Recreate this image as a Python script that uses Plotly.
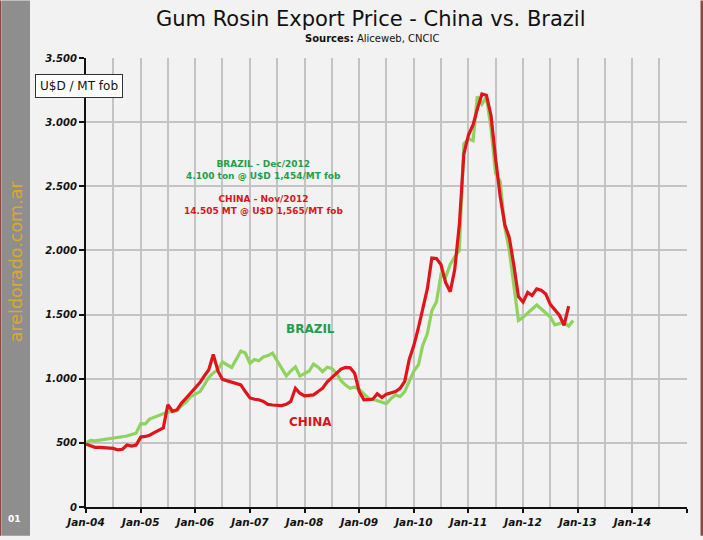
import plotly.graph_objects as go
import pandas as pd

# ---------------- data ----------------
start_month = "2004-01-01"
brazil = [500, 520, 515, 520, 525, 528, 532, 538, 545, 553, 565, 575,
          650, 648, 685, 700, 712, 730, 740, 745, 750, 790, 820, 860,
          880, 900, 950, 1010, 1045, 1070, 1130, 1110, 1088, 1150, 1215, 1200,
          1120, 1150, 1140, 1170, 1180, 1200, 1140, 1080, 1022, 1060, 1093, 1020,
          1040, 1060, 1115, 1090, 1055, 1090, 1080, 1042, 985, 950, 926, 935,
          915, 880, 850, 840, 830, 815, 806, 845, 875, 860, 900, 980,
          1060, 1110, 1260, 1350, 1530, 1600, 1810, 1790, 1890, 1950, 2000, 2830,
          2870, 2855, 3200, 3140, 3195, 2950, 2600, 2540, 2180, 2000, 1700, 1455,
          1480, 1510, 1545, 1575, 1545, 1515, 1480, 1420, 1430, 1440, 1410, 1454]
china = [490, 480, 465, 465, 462, 460, 457, 445, 450, 483, 475, 483,
         545, 550, 560, 580, 600, 617, 797, 746, 758, 810, 850, 890,
         930, 970, 1020, 1070, 1190, 1060, 995, 985, 978, 965, 952, 900,
         850, 840, 836, 823, 800, 795, 790, 790, 800, 823, 926, 887,
         866, 870, 874, 900, 926, 975, 1010, 1042, 1075, 1088, 1085, 1042,
         900, 836, 836, 840, 882, 853, 880, 890, 900, 925, 980, 1150,
         1260, 1400, 1540, 1700, 1940, 1936, 1890, 1750, 1678, 1850, 2200, 2750,
         2900, 2980, 3100, 3220, 3210, 3050, 2720, 2420, 2200, 2100, 1880, 1640,
         1597, 1673, 1648, 1700, 1690, 1660, 1580, 1540, 1493, 1416, 1565]
brazil_dates = pd.date_range(start_month, periods=len(brazil), freq="MS")
china_dates = pd.date_range(start_month, periods=len(china), freq="MS")

title_text = "Gum Rosin Export Price - China vs. Brazil"
subtitle_text = "<b>Sources:</b> Aliceweb, CNCIC"
unit_text = "U$D / MT fob"
brazil_note = "<b>BRAZIL - Dec/2012<br>4.100 ton @ U$D 1,454/MT fob</b>"
china_note = "<b>CHINA - Nov/2012<br>14.505 MT @ U$D 1,565/MT fob</b>"

# ---------------- layout helpers ----------------
W, H = 703, 540
ML, MR, MT, MB = 86, 16, 58, 29
PW, PH = W - ML - MR, H - MT - MB


def px(p):
    return (p - ML) / PW


def py(p):
    return (H - MB - p) / PH


GREEN_LINE = "#8fd35f"
RED_LINE = "#e0141b"
GREEN_TXT = "#1f9e4c"
RED_TXT = "#d8161c"
BG = "#f2f2f2"
GRID = "#c4c4c4"
FONT = "DejaVu Sans"

fig = go.Figure()
fig.add_trace(go.Scatter(x=brazil_dates, y=brazil, mode="lines", name="Brazil",
                         line=dict(color=GREEN_LINE, width=3.2)))
fig.add_trace(go.Scatter(x=china_dates, y=china, mode="lines", name="China",
                         line=dict(color=RED_LINE, width=3.2)))

ytickfont = dict(family=FONT, size=10, color="#111", weight="bold", style="italic")
xtickfont = dict(family=FONT, size=10.5, color="#111", weight="bold", style="italic")

fig.update_layout(
    width=W, height=H,
    margin=dict(l=ML, r=MR, t=MT, b=MB, pad=0),
    paper_bgcolor=BG, plot_bgcolor=BG,
    showlegend=False,
    separators=",.",
    font=dict(family=FONT),
    xaxis=dict(
        type="date",
        range=["2004-01-01", "2015-01-01"],
        dtick="M12", tick0="2004-01-01", tickformat="%b-%y",
        showgrid=True, gridcolor=GRID, gridwidth=1.5,
        minor=dict(dtick="M6", tick0="2004-01-01", showgrid=True,
                   gridcolor=GRID, gridwidth=1.5),
        showline=True, linecolor="#111", linewidth=2,
        ticks="outside", ticklen=4, tickwidth=2, tickcolor="#111",
        tickfont=xtickfont, zeroline=False, fixedrange=True,
    ),
    yaxis=dict(
        range=[0, 3500], dtick=500, tickformat=",d",
        showgrid=True, gridcolor=GRID, gridwidth=1.5,
        showline=True, linecolor="#111", linewidth=2,
        ticks="outside", ticklen=5, tickwidth=2, tickcolor="#111",
        tickfont=ytickfont, zeroline=False, fixedrange=True,
    ),
)

# left grey strip and borders
fig.add_shape(type="rect", xref="paper", yref="paper",
              x0=px(2), x1=px(30), y0=py(H), y1=py(0),
              fillcolor="#8e8e8e", line=dict(width=0), layer="below")
fig.add_shape(type="rect", xref="paper", yref="paper",
              x0=px(0), x1=px(1.5), y0=py(H), y1=py(0),
              fillcolor="#8a4a44", line=dict(width=0), layer="below")
fig.add_shape(type="rect", xref="paper", yref="paper",
              x0=px(700.5), x1=px(703), y0=py(H), y1=py(0),
              fillcolor="#8a4a44", line=dict(width=0), layer="below")

ann = []
ann.append(dict(text=title_text, x=px(371), y=py(18.5), xref="paper", yref="paper",
                showarrow=False, xanchor="center", yanchor="middle",
                font=dict(family=FONT, size=21, color="#111")))
ann.append(dict(text=subtitle_text, x=px(372), y=py(38.5), xref="paper", yref="paper",
                showarrow=False, xanchor="center", yanchor="middle",
                font=dict(family=FONT, size=10, color="#111")))
ann.append(dict(text=unit_text, x=px(79), y=py(86), xref="paper", yref="paper",
                showarrow=False, xanchor="center", yanchor="middle",
                bgcolor="#ffffff", bordercolor="#333", borderwidth=1, borderpad=4,
                font=dict(family=FONT, size=12, color="#111")))
ann.append(dict(text=brazil_note, x=px(263), y=py(171.5), xref="paper", yref="paper",
                showarrow=False, xanchor="center", yanchor="middle",
                font=dict(family=FONT, size=9, color=GREEN_TXT)))
ann.append(dict(text=china_note, x=px(263), y=py(206.5), xref="paper", yref="paper",
                showarrow=False, xanchor="center", yanchor="middle",
                font=dict(family=FONT, size=9, color=RED_TXT)))
ann.append(dict(text="<b>BRAZIL</b>", x=px(310), y=py(331), xref="paper", yref="paper",
                showarrow=False, xanchor="center", yanchor="middle",
                font=dict(family=FONT, size=12, color=GREEN_TXT)))
ann.append(dict(text="<b>CHINA</b>", x=px(310), y=py(425), xref="paper", yref="paper",
                showarrow=False, xanchor="center", yanchor="middle",
                font=dict(family=FONT, size=12, color=RED_TXT)))
ann.append(dict(text="areldorado.com.ar", x=px(16), y=py(263), xref="paper", yref="paper",
                showarrow=False, xanchor="center", yanchor="middle", textangle=-90,
                font=dict(family=FONT, size=17.5, color="#d6a932")))
ann.append(dict(text="<b>01</b>", x=px(14), y=py(523), xref="paper", yref="paper",
                showarrow=False, xanchor="center", yanchor="middle",
                font=dict(family=FONT, size=9, color="#ffffff")))
fig.update_layout(annotations=ann)

fig.write_html(
    "out.html",
    config={"displayModeBar": False},
    post_script="document.body.style.margin='0';document.body.style.overflow='hidden';",
)
